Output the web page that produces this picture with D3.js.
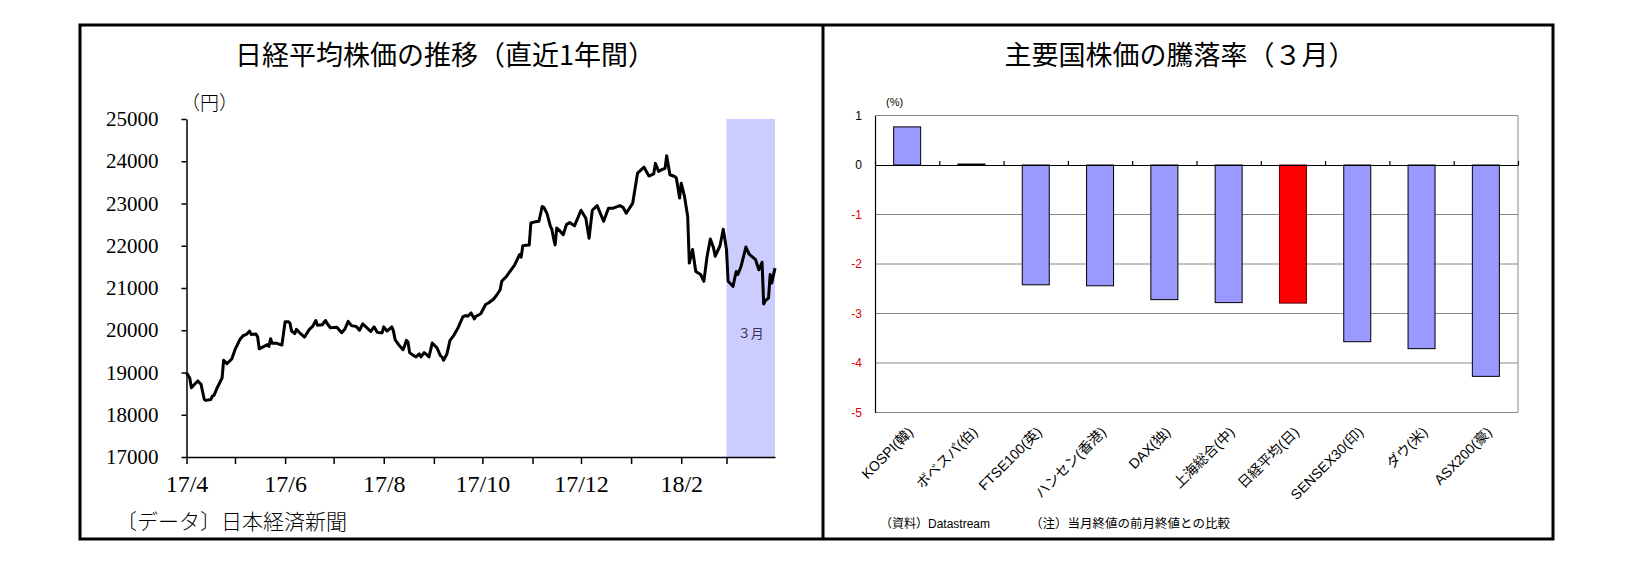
<!DOCTYPE html>
<html lang="ja">
<head>
  <meta charset="UTF-8" />
  <title>日経平均株価の推移 / 主要国株価の騰落率</title>
  <script src="https://d3js.org/d3.v7.min.js"></script>
  <style>
    body {
      margin: 0;
      background: #fff;
    }
    .serif {
      font-family: "Liberation Serif", "Noto Sans CJK JP", serif;
    }
    .gothic {
      font-family: "Noto Sans CJK JP", sans-serif;
    }
    .small {
      font-family: "Liberation Sans", "Noto Sans CJK JP", sans-serif;
    }
  </style>
</head>
<body>
  <svg width="1635" height="570"></svg>

  <script>
    // left chart: Nikkei 225
    const nikkeiDates = [
      "2017-04-01", "2017-04-03", "2017-04-04", "2017-04-06", "2017-04-08", "2017-04-10",
      "2017-04-12", "2017-04-13", "2017-04-16", "2017-04-17", "2017-04-18", "2017-04-20",
      "2017-04-23", "2017-04-24", "2017-04-26", "2017-04-29", "2017-05-01", "2017-05-04",
      "2017-05-06", "2017-05-08", "2017-05-10", "2017-05-11", "2017-05-14", "2017-05-15",
      "2017-05-16", "2017-05-19", "2017-05-21", "2017-05-22", "2017-05-23", "2017-05-24",
      "2017-05-27", "2017-05-29", "2017-05-30", "2017-06-01", "2017-06-03", "2017-06-04",
      "2017-06-05", "2017-06-07", "2017-06-08", "2017-06-10", "2017-06-13", "2017-06-16",
      "2017-06-18", "2017-06-20", "2017-06-21", "2017-06-24", "2017-06-26", "2017-06-27",
      "2017-06-29", "2017-07-03", "2017-07-06", "2017-07-08", "2017-07-10", "2017-07-12",
      "2017-07-15", "2017-07-17", "2017-07-19", "2017-07-21", "2017-07-24", "2017-07-26",
      "2017-07-28", "2017-07-30", "2017-07-31", "2017-08-01", "2017-08-03", "2017-08-06",
      "2017-08-07", "2017-08-08", "2017-08-11", "2017-08-13", "2017-08-15", "2017-08-16",
      "2017-08-17", "2017-08-19", "2017-08-21", "2017-08-23", "2017-08-24", "2017-08-26",
      "2017-08-27", "2017-08-29", "2017-08-31", "2017-09-03", "2017-09-05", "2017-09-06",
      "2017-09-07", "2017-09-09", "2017-09-11", "2017-09-13", "2017-09-16", "2017-09-19",
      "2017-09-21", "2017-09-22", "2017-09-24", "2017-09-26", "2017-09-27", "2017-09-30",
      "2017-10-03", "2017-10-05", "2017-10-08", "2017-10-10", "2017-10-12", "2017-10-13",
      "2017-10-16", "2017-10-18", "2017-10-21", "2017-10-24", "2017-10-25", "2017-10-26",
      "2017-10-28", "2017-10-30", "2017-10-31", "2017-11-02", "2017-11-05", "2017-11-07",
      "2017-11-08", "2017-11-10", "2017-11-12", "2017-11-13", "2017-11-14", "2017-11-15",
      "2017-11-16", "2017-11-18", "2017-11-20", "2017-11-22", "2017-11-24", "2017-11-27",
      "2017-12-01", "2017-12-04", "2017-12-06", "2017-12-08", "2017-12-11", "2017-12-15",
      "2017-12-18", "2017-12-21", "2017-12-25", "2017-12-27", "2017-12-29", "2018-01-02",
      "2018-01-05", "2018-01-09", "2018-01-12", "2018-01-15", "2018-01-16", "2018-01-18",
      "2018-01-20", "2018-01-22", "2018-01-23", "2018-01-25", "2018-01-28", "2018-01-29",
      "2018-01-31", "2018-02-01", "2018-02-03", "2018-02-05", "2018-02-06", "2018-02-08",
      "2018-02-10", "2018-02-13", "2018-02-15", "2018-02-17", "2018-02-19", "2018-02-21",
      "2018-02-22", "2018-02-25", "2018-02-27", "2018-03-01", "2018-03-02", "2018-03-05",
      "2018-03-07", "2018-03-08", "2018-03-10", "2018-03-13", "2018-03-15", "2018-03-19",
      "2018-03-21", "2018-03-23", "2018-03-24", "2018-03-25", "2018-03-27", "2018-03-28",
      "2018-03-29", "2018-03-31"
    ];
    const nikkeiValues = [
      18990, 18870, 18640, 18720, 18800, 18720,
      18360, 18340, 18360, 18440, 18460, 18640,
      18870, 19290, 19210, 19320, 19540, 19780,
      19870, 19900, 19980, 19900, 19910, 19840,
      19560, 19620, 19660, 19620, 19800, 19690,
      19690, 19660, 19650, 20200, 20200, 20170,
      19980, 19920, 20020, 19940, 19840, 20020,
      20090, 20230, 20120, 20130, 20230, 20160,
      20060, 20070, 19940, 20030, 20210, 20110,
      20090, 20000, 20150, 20080, 19970, 20080,
      19950, 19940, 19940, 20080, 19980, 20080,
      19980, 19780, 19620, 19540, 19760, 19720,
      19470, 19410, 19370, 19440, 19370, 19470,
      19440, 19370, 19700, 19580, 19400, 19370,
      19290, 19430, 19760, 19860, 20060, 20320,
      20350, 20330, 20410, 20270, 20330, 20390,
      20610, 20650, 20740, 20840, 20960, 21160,
      21280, 21390, 21550, 21790, 21730, 22000,
      22010, 22020, 22540, 22560, 22580, 22930,
      22910, 22760, 22470, 22390, 22180, 22020,
      22420, 22350, 22260, 22500, 22550, 22470,
      22840, 22650, 22180, 22840, 22950, 22580,
      22890, 22890, 22950, 22910, 22770, 23010,
      23720, 23860, 23650, 23700, 23950, 23760,
      23800, 23830, 24130, 23680, 23640, 23600,
      23130, 23480, 23170, 22690, 21590, 21910,
      21390, 21320, 21160, 21750, 22160, 21950,
      21750, 22000, 22390, 21910, 21160, 21040,
      21390, 21320, 21510, 21970, 21800, 21670,
      21430, 21610, 20620, 20700, 20760, 21320,
      21120, 21470
    ];
    const nikkeiTicks = [17000, 18000, 19000, 20000, 21000, 22000, 23000, 24000, 25000];
    const monthTicks = [
      "2017-04-01", "2017-05-01", "2017-06-01", "2017-07-01", "2017-08-01", "2017-09-01",
      "2017-10-01", "2017-11-01", "2017-12-01", "2018-01-01", "2018-02-01", "2018-03-01"
    ];
    const monthLabels = ["17/4", "", "17/6", "", "17/8", "", "17/10", "", "17/12", "", "18/2", ""];
    const marchSpan = ["2018-03-01", "2018-03-31"];

    // right chart: March change by market (%)
    const markets = [
      "KOSPI(韓)", "ボベスパ(伯)", "FTSE100(英)", "ハンセン(香港)", "DAX(独)",
      "上海総合(中)", "日経平均(日)", "SENSEX30(印)", "ダウ(米)", "ASX200(豪)"
    ];
    const changes = [0.77, 0.02, -2.42, -2.44, -2.72, -2.78, -2.79, -3.57, -3.71, -4.27];
    const changeTicks = [1, 0, -1, -2, -3, -4, -5];
    const highlight = "日経平均(日)";

    const parse = d3.timeParse("%Y-%m-%d");
    const series = nikkeiDates.map((d, i) => ({ date: parse(d), value: nikkeiValues[i] }));

    const svg = d3.select("svg");

    // outer frame and divider
    svg.append("rect")
      .attr("x", 80).attr("y", 25)
      .attr("width", 1473).attr("height", 514)
      .attr("fill", "none").attr("stroke", "#000").attr("stroke-width", 3);
    svg.append("line")
      .attr("x1", 823).attr("x2", 823).attr("y1", 25).attr("y2", 539)
      .attr("stroke", "#000").attr("stroke-width", 3);

    // ---------- left chart ----------
    const left = svg.append("g");

    const x = d3.scaleTime()
      .domain([parse("2017-04-01"), parse("2018-03-31")])
      .range([186.5, 775]);
    const y = d3.scaleLinear()
      .domain([17000, 25000])
      .range([457, 119]);

    left.append("text")
      .attr("class", "gothic")
      .attr("x", 445).attr("y", 65)
      .attr("text-anchor", "middle")
      .style("font-size", "27px")
      .text("日経平均株価の推移（直近1年間）");

    left.append("rect")
      .attr("x", x(parse(marchSpan[0])))
      .attr("width", x(parse(marchSpan[1])) - x(parse(marchSpan[0])))
      .attr("y", y(25000))
      .attr("height", y(17000) - y(25000))
      .attr("fill", "#ccccff");

    left.append("text")
      .attr("class", "gothic")
      .attr("x", (x(parse(marchSpan[0])) + x(parse(marchSpan[1]))) / 2)
      .attr("y", 338)
      .attr("text-anchor", "middle")
      .style("font-size", "13px")
      .attr("fill", "#333355")
      .text("３月");

    const yAxis = left.append("g")
      .attr("transform", "translate(186.5,0)")
      .call(d3.axisLeft(y).tickValues(nikkeiTicks).tickSize(5).tickSizeOuter(0)
        .tickPadding(23).tickFormat(d3.format("d")));
    yAxis.selectAll("text").attr("class", "serif").style("font-size", "21px").attr("fill", "#000");

    const xAxis = left.append("g")
      .attr("transform", "translate(0,457)")
      .call(d3.axisBottom(x).tickValues(monthTicks.map(parse)).tickSize(7).tickSizeOuter(0)
        .tickPadding(11).tickFormat((d, i) => monthLabels[i]));
    xAxis.selectAll("text").attr("class", "serif").style("font-size", "24px").attr("fill", "#000");

    [yAxis, xAxis].forEach(a => {
      a.selectAll("path, line").attr("stroke", "#000").attr("stroke-width", 1.5);
    });

    left.append("path")
      .datum(series)
      .attr("fill", "none")
      .attr("stroke", "#000")
      .attr("stroke-width", 3)
      .attr("stroke-linejoin", "round")
      .attr("d", d3.line().x(d => x(d.date)).y(d => y(d.value)));

    left.append("text")
      .attr("class", "gothic")
      .attr("x", 181).attr("y", 110)
      .style("font-size", "19px")
      .attr("font-weight", 300)
      .text("（円）");

    left.append("text")
      .attr("class", "gothic")
      .attr("x", 116).attr("y", 529)
      .style("font-size", "21px")
      .attr("font-weight", 300)
      .text("〔データ〕日本経済新聞");

    // ---------- right chart ----------
    const right = svg.append("g");

    const xb = d3.scaleBand()
      .domain(markets)
      .range([875, 1518])
      .paddingInner(0.58)
      .paddingOuter(0.29);
    const yb = d3.scaleLinear()
      .domain([-5, 1])
      .range([412.5, 115.5]);

    right.append("text")
      .attr("class", "gothic")
      .attr("x", 1180).attr("y", 65)
      .attr("text-anchor", "middle")
      .style("font-size", "27px")
      .text("主要国株価の騰落率（３月）");

    right.append("g")
      .selectAll("line")
      .data(changeTicks.filter(t => t !== 0))
      .join("line")
      .attr("x1", 875).attr("x2", 1518)
      .attr("y1", d => yb(d)).attr("y2", d => yb(d))
      .attr("stroke", "#888").attr("stroke-width", 1);
    right.append("line")
      .attr("x1", 1518).attr("x2", 1518)
      .attr("y1", yb(1)).attr("y2", yb(-5))
      .attr("stroke", "#888").attr("stroke-width", 1);

    right.append("g")
      .selectAll("rect")
      .data(markets)
      .join("rect")
      .attr("x", d => xb(d))
      .attr("width", xb.bandwidth())
      .attr("y", (d, i) => yb(Math.max(0, changes[i])))
      .attr("height", (d, i) => Math.abs(yb(changes[i]) - yb(0)))
      .attr("fill", d => d === highlight ? "#ff0000" : "#9999ff")
      .attr("stroke", d => d === highlight ? "#600000" : "#000")
      .attr("stroke-width", 1);

    const yAxisB = right.append("g")
      .attr("transform", "translate(875,0)")
      .call(d3.axisLeft(yb).tickValues(changeTicks).tickSize(0).tickSizeOuter(0).tickPadding(13));
    yAxisB.select(".domain").attr("stroke", "#000").attr("stroke-width", 1.2);
    yAxisB.selectAll("text")
      .attr("class", "small")
      .style("font-size", "12px")
      .attr("fill", d => d < 0 ? "#e00000" : "#000")
      .text(d => d < 0 ? "-" + Math.abs(d) : d);

    const zero = d3.scaleLinear().domain([0, markets.length]).range([875, 1518]);
    const zeroAxis = right.append("g")
      .attr("transform", `translate(0,${yb(0)})`)
      .call(d3.axisTop(zero).ticks(markets.length).tickSize(4).tickSizeOuter(0).tickFormat(""));
    zeroAxis.selectAll("path, line").attr("stroke", "#000").attr("stroke-width", 1.2);

    right.append("g")
      .selectAll("text")
      .data(markets)
      .join("text")
      .attr("class", "small")
      .style("font-size", "14px")
      .attr("text-anchor", "end")
      .attr("transform", d => `translate(${xb(d) + xb.bandwidth() / 2 + 7},433) rotate(-45)`)
      .text(d => d);

    right.append("text")
      .attr("class", "small")
      .attr("x", 886).attr("y", 106)
      .style("font-size", "11px")
      .text("(%)");

    right.append("text")
      .attr("class", "small")
      .attr("x", 880).attr("y", 528)
      .style("font-size", "12px")
      .text("（資料）Datastream");
    right.append("text")
      .attr("class", "small")
      .attr("x", 1030).attr("y", 528)
      .style("font-size", "12.5px")
      .text("（注）当月終値の前月終値との比較");
  </script>
</body>
</html>
